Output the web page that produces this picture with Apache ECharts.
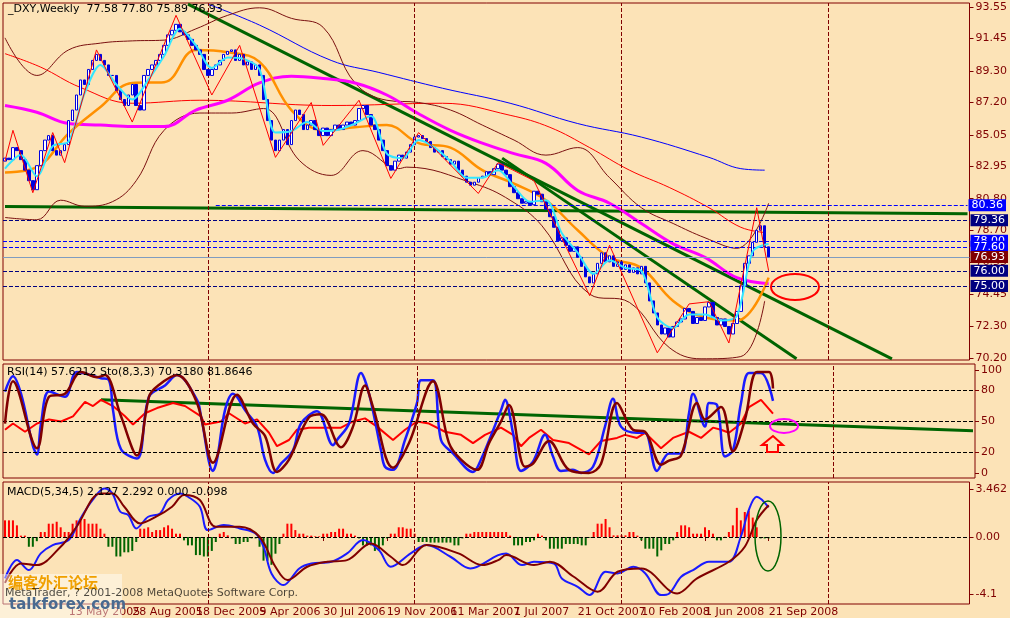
<!DOCTYPE html>
<html>
<head>
<meta charset="utf-8">
<script src="https://cdn.jsdelivr.net/npm/echarts@6/dist/echarts.min.js"></script>
<style>
html,body{margin:0;padding:0;background:#fce3b7;}
#main{width:1010px;height:618px;}
</style>
</head>
<body>
<div id="main"></div>
<script>
// weekly closes, 21 Jan 2005 .. 21 Sep 2008
var closes = [
	83.5,83.4,84.2,84.0,83.4,82.7,82.0,81.4,83.0,84.0,84.7,85.0,84.0,83.7,84.0,84.4,86.0,86.7,87.7,88.7,
	88.4,89.4,90.0,90.4,90.0,89.7,89.0,89.0,88.0,87.4,87.0,87.7,88.4,87.0,86.7,89.0,89.4,89.7,90.0,90.4,
	91.0,91.7,92.0,92.4,91.9,91.7,91.4,91.0,90.7,90.4,89.4,89.0,89.4,89.7,90.0,90.4,90.6,90.7,90.0,90.4,
	89.7,89.9,89.4,89.7,89.0,87.4,86.0,84.7,84.0,84.7,85.4,84.4,86.0,86.7,86.4,85.4,85.7,86.0,85.4,85.0,
	85.5,85.0,85.4,85.7,85.4,85.7,85.9,85.7,86.0,86.8,87.0,86.4,85.7,85.4,84.7,84.0,83.0,82.7,83.3,83.7,
	83.5,83.9,84.4,84.9,85.0,84.8,84.6,84.2,83.9,84.0,83.6,83.4,83.1,83.3,82.7,82.3,81.9,81.7,81.9,82.2,
	82.3,82.6,82.4,82.8,83.1,82.7,82.4,81.6,81.2,80.8,80.5,80.6,80.4,81.3,81.1,80.6,80.1,79.6,78.9,78.0,
	78.2,77.7,77.3,77.6,76.9,76.3,75.6,75.2,75.8,76.5,77.2,76.6,77.0,76.3,76.6,76.1,76.4,75.9,76.2,75.8,
	76.3,75.2,74.0,73.2,72.4,71.8,72.2,71.6,72.3,72.6,72.8,73.5,73.3,72.5,72.9,72.7,73.6,73.9,72.9,72.4,
	72.8,72.3,71.8,72.5,73.3,75.0,76.5,77.0,77.9,78.7,79.0,77.6,76.93
];
var firstOpen = 83.3;
var tickLabels = ['21 Jan 2005','13 May 2005','28 Aug 2005','18 Dec 2005','9 Apr 2006','30 Jul 2006',
	'19 Nov 2006','11 Mar 2007','1 Jul 2007','21 Oct 2007','10 Feb 2008','1 Jun 2008','21 Sep 2008'];
var priceTicks = [93.55,91.45,89.30,87.20,85.05,82.95,80.80,78.70,76.55,74.45,72.30,70.20];
var totalWeeks = 243;

var cyanWeeks = [0,4,8,12,16,20,24,28,32,36,40,44,48,52,56,60,64,68,72,76,80,84,88,92,96,100,104,108,112,116,120,124,128,132,136,140,144,148,152,156,160,164,168,172,176,180,184,188,192];
var cyanMA = [82.8,83.7,82.3,84.3,84.6,87.8,89.7,88.4,87.4,88.7,90.3,92.1,91.0,89.5,90.2,90.1,89.4,85.2,85.3,85.9,85.3,85.4,85.8,86.3,83.8,83.5,84.7,84.2,83.3,82.2,82.2,82.7,81.6,80.6,80.7,78.5,77.2,75.8,76.7,76.2,76.0,72.9,72.2,73.1,73.1,72.7,73.0,77.3,77.8];
var maWeeks = [0,8,16,24,32,40,48,56,64,72,80,88,96,104,112,120,128,136,144,152,160,168,176,184,192];
var orangeMA = [82.55,82.9,85.15,86.9,88.5,88.55,90.7,90.55,89.9,86.7,85.35,85.55,85.7,84.5,84.2,82.7,81.8,80.7,78.7,76.9,76.2,74.0,72.9,72.7,75.55];
var magentaMA = [87.0,86.55,85.8,85.7,85.6,85.6,86.7,87.35,88.5,88.95,88.8,88.5,87.7,86.45,85.35,84.5,83.8,83.15,81.35,80.5,79.15,77.8,76.9,75.55,75.15];
var upperBand = [91.5,89.0,90.7,91.15,91.3,91.35,92.1,93.0,93.5,92.8,92.2,88.5,87.35,87.2,86.7,85.7,84.7,83.7,84.2,82.2,80.2,79.15,78.2,77.5,80.5];
var lowerWeeks = [0,8,14,20,27,33,40,49,57,65,74,82,90,99,101,118,127,135,147,157,167,175,185,191];
var lowerBand = [79.55,79.4,80.7,80.3,80.6,82.0,85.35,86.5,86.5,86.8,83.35,82.35,84.0,82.8,82.9,81.8,80.7,79.0,74.45,73.9,70.9,70.15,70.3,74.0];
var redWeeks = [0,9,19,32,49,82,110,127,137,147,157,167,177,185,191];
var redMA = [90.45,89.55,88.2,87.15,87.35,87.0,87.15,86.35,85.55,84.2,82.7,81.55,80.2,78.9,78.55];
var blueWeeks = [51,64,82,94,110,127,144,160,177,185,191];
var blueMA = [93.75,92.35,90.0,89.2,88.15,87.15,85.8,84.9,83.55,82.8,82.7];
var zigWeeks = [0,2,7,12,15,23,32,43,52,59,68,77,80,89,97,104,119,124,133,147,152,164,172,177,182,189,192];
var zigZag = [83.3,85.35,81.2,85.2,83.2,90.7,85.9,93.0,87.7,91.0,83.55,87.2,84.35,87.35,82.15,85.2,81.15,83.2,82.0,74.35,77.7,70.55,73.8,73.95,71.2,80.2,76.0];
var trendA = [[46,93.75],[223,70.15]];
var trendB = [[125,83.5],[199,70.15]];
var flatLine = [[0,80.28],[242,79.8]];

var stochWeeks = [0,2,4,7,8,9,11,15,18,24,26,27,29,33,36,40,43,48,49,52,53,55,57,58,60,63,65,67,69,72,74,78,82,83,86,89,91,94,95,97,100,103,104,107,109,112,117,119,124,125,127,129,132,135,137,139,142,144,147,150,152,154,158,160,163,166,169,171,172,175,176,178,180,182,184,186,189,192];
var stochMain = [79,94,77,26,18,48,79,74,98,92,90,61,23,14,74,85,95,71,55,2,13,61,77,74,61,45,13,0,9,22,48,60,27,32,48,97,77,22,6,3,32,68,90,90,32,19,1,13,61,71,39,2,11,37,16,2,3,0,6,45,72,45,39,39,2,19,19,58,77,45,68,66,16,22,68,97,97,70];
var signalWeeks = [0,2,8,11,15,19,23,25,29,33,36,38,43,48,52,58,62,65,68,71,76,79,84,87,90,92,97,101,107,111,114,118,121,124,126,130,132,136,141,146,149,153,157,160,164,166,169,173,175,179,182,185,188,191,192];
var stochSignal = [48,89,24,74,77,98,93,95,55,17,74,84,95,68,10,76,48,36,1,13,54,57,25,45,85,64,5,29,89,29,13,3,29,50,66,6,9,31,3,0,9,68,42,40,8,12,17,68,52,64,21,52,98,98,82];
var rsiWeeks = [0,2,5,8,11,14,17,20,22,24,27,30,32,35,38,42,45,49,50,54,56,60,63,66,68,71,73,76,80,84,87,90,93,97,100,103,106,110,114,117,120,124,127,129,131,134,137,141,146,149,153,155,158,160,164,167,171,174,177,179,181,184,186,189,192];
var rsiLine = [42,48,40,48,52,50,55,69,65,71,65,55,47,58,63,68,65,55,47,50,58,48,52,39,26,32,42,44,44,44,50,53,45,32,42,50,48,40,37,29,37,44,37,26,34,42,32,29,18,31,34,37,34,39,24,34,40,34,44,42,39,48,64,71,57.6];
var rsiTrend = [[24,71],[242,41]];

var macdWeeks = [0,3,6,9,12,16,19,22,25,27,29,31,33,36,39,41,44,46,49,51,55,59,63,65,67,70,74,77,82,86,90,94,97,102,106,112,117,124,126,130,133,138,140,144,147,151,154,158,161,165,167,170,173,177,182,185,187,189,192];
var macdMain = [-2.97,-1.66,-2.38,-1.18,-0.58,-0.22,1.34,2.66,3.5,3.14,1.82,1.58,0.62,1.46,1.7,2.66,3.14,2.9,2.18,0.5,0.86,0.62,0.26,-0.7,-2.62,-3.46,-2.26,-1.9,-1.78,-1.18,-0.22,-0.94,-2.14,-1.18,-0.58,-1.42,-2.26,-1.3,-1.18,-2.02,-1.78,-1.9,-2.98,-3.58,-4.18,-2.5,-2.62,-2.14,-2.62,-4.18,-4.06,-2.86,-2.38,-1.78,-1.78,0.02,1.94,2.9,2.13];
var sigWeeks = [0,4,8,14,18,24,27,30,34,38,42,45,49,53,59,64,68,71,76,81,86,92,97,100,106,114,120,124,126,133,137,143,149,154,160,169,174,182,186,189,192];
var macdSignal = [-3.3,-1.9,-2.02,-0.7,0.74,3.14,3.14,2.18,0.98,1.46,2.18,3.02,2.66,0.74,0.74,0.02,-2.14,-3.1,-2.14,-1.78,-1.66,-0.46,-1.42,-2.02,-0.58,-1.18,-2.02,-1.66,-1.3,-2.02,-1.78,-2.86,-3.94,-2.5,-2.26,-4.06,-2.98,-1.78,-0.7,1.22,2.29];
var macdHist = [
	1.2,1.2,1.2,0.84,0.1,0.1,-0.7,-0.7,-0.3,0.36,0.36,0.96,0.96,1.1,0.7,0.36,0.36,0.96,1.2,1.2,
	1.3,0.96,0.96,0.96,0.6,0.24,-0.7,-0.7,-1.4,-1.4,-1.1,-1.1,-1.0,-0.36,0.6,0.6,0.7,0.36,0.5,0.5,
	0.7,0.84,0.6,0.24,0.24,-0.24,-0.6,-0.6,-1.3,-1.3,-1.4,-1.4,-1.0,-0.36,0.24,0.36,0.12,-0.1,-0.5,-0.5,
	-0.36,-0.36,-0.1,-0.1,-0.7,-1.7,-1.7,-2.0,-1.2,-0.5,0.24,0.96,0.96,0.5,0.24,0.24,0.1,0.1,0.05,0.05,
	0.24,0.24,0.36,0.36,0.6,0.6,0.24,0.24,0.1,-0.1,-0.6,-0.6,-0.6,-1.0,-1.0,-0.6,-0.1,0.24,0.24,0.7,
	0.7,0.6,0.6,0.24,-0.36,-0.36,-0.36,-0.4,-0.4,-0.4,-0.4,-0.4,-0.4,-0.6,-0.6,-0.1,0.24,0.24,0.36,0.36,
	0.36,0.36,0.36,0.36,0.36,0.36,0.36,0.1,-0.6,-0.6,-0.6,-0.36,-0.36,-0.24,0.24,0.1,-0.24,-0.84,-0.84,-0.84,
	-0.84,-0.5,-0.5,-0.5,-0.5,-0.6,-0.6,-0.05,0.36,0.96,0.96,1.3,0.7,0.12,0.12,0.12,0.12,0.36,0.36,0.1,
	-0.24,-0.84,-0.84,-0.84,-1.4,-0.96,-0.5,-0.5,-0.24,0.36,0.84,0.84,0.7,0.24,0.24,0.24,0.7,0.5,0.24,-0.24,
	-0.24,0.02,0.36,0.84,2.1,1.2,1.8,1.9,1.4,0.7,-0.1,-0.1,-0.1
];

var levels = [
	{v: 79.36, c: '#000080', dash: 'dashed', bg: '#000080'},
	{v: 78.00, c: '#0000ff', dash: 'dashed', bg: '#0000ff'},
	{v: 77.60, c: '#0000ff', dash: 'dashed', bg: '#0000ff'},
	{v: 76.93, c: '#7f9cc0', dash: 'solid', bg: '#800000'},
	{v: 76.00, c: '#000080', dash: 'dashed', bg: '#000080'},
	{v: 75.00, c: '#000080', dash: 'dashed', bg: '#000080'}
];
var vLines = [51, 103, 155, 207];

function pairs(w, v) {
	return w.map(function(x, i) { return [x, v[i]]; });
}

function initChart() {
	var chart = echarts.init(document.getElementById('main'));
	var font = 'DejaVu Sans';
	var cats = [];
	for (var i = 0; i < totalWeeks; i++) cats.push(String(i));

	var candles = closes.map(function(c, i) {
		var o = i ? closes[i - 1] : firstOpen;
		return [o, c, Math.min(o, c), Math.max(o, c)];
	});

	var showTick = function(idx) { return idx % 16 === 0 && idx <= 192; };
	function xAxis(gi, labels) {
		return {
			type: 'category', gridIndex: gi, data: cats, boundaryGap: true,
			axisLine: {show: false},
			axisTick: {show: labels, interval: showTick, alignWithLabel: true, length: 4, lineStyle: {color: '#800000'}},
			axisLabel: {show: labels, interval: showTick, align: 'left', margin: 3, color: '#800000',
				fontFamily: font, fontSize: 11,
				formatter: function(v, idx) { return tickLabels[idx / 16] || ''; }},
			splitLine: {show: false}
		};
	}
	function yAxis(gi, min, max, ticks, fmt) {
		return {
			type: 'value', gridIndex: gi, position: 'right', min: min, max: max, scale: true,
			axisLine: {show: false},
			axisTick: {show: true, customValues: ticks, length: 4, inside: false, lineStyle: {color: '#800000'}},
			axisLabel: {customValues: ticks, color: '#800000', fontFamily: font, fontSize: 11, margin: 6,
				formatter: fmt},
			splitLine: {show: false}
		};
	}
	function line(name, gi, data, color, width, z, smooth) {
		return {name: name, type: 'line', xAxisIndex: gi, yAxisIndex: gi, data: data, symbol: 'none',
			smooth: smooth || false,
			lineStyle: {color: color, width: width}, silent: true, z: z || 3, animation: false};
	}
	function vMarks() {
		return {silent: true, symbol: 'none', label: {show: false},
			lineStyle: {color: '#800000', type: 'dashed', width: 1},
			data: vLines.map(function(x) { return {xAxis: x}; })};
	}

	var levelMarks = {
		silent: true, symbol: 'none',
		data: levels.map(function(l) {
			return {yAxis: l.v, lineStyle: {color: l.c, type: l.dash, width: 1},
				label: {show: true, position: 'end', distance: 1, formatter: l.v.toFixed(2), color: '#fff',
					backgroundColor: l.bg, padding: [1, 3, 0, 3], fontFamily: font, fontSize: 11}};
		}).concat([[
			{coord: [53, 80.36], lineStyle: {color: '#0000ff', type: 'dashed', width: 1}},
			{coord: [242, 80.36], label: {show: true, position: 'end', distance: 1, formatter: '80.36', color: '#fff',
				backgroundColor: '#0000ff', padding: [1, 3, 0, 3], fontFamily: font, fontSize: 11}}
		]])
	};

	var series = [];
	series.push({
		type: 'candlestick', xAxisIndex: 0, yAxisIndex: 0, data: candles, barWidth: 3, z: 5,
		itemStyle: {color: '#ffffff', color0: '#0000e0', borderColor: '#0000e0', borderColor0: '#0000e0', borderWidth: 1},
		markLine: vMarks(), animation: false
	});
	var lvl = line('levels', 0, flatLine, '#006400', 3, 2);
	lvl.markLine = levelMarks;
	series.push(lvl);
	series.push(line('trendA', 0, trendA, '#006400', 3, 2));
	series.push(line('trendB', 0, trendB, '#006400', 3, 2));
	series.push(line('blueMA', 0, pairs(blueWeeks, blueMA), '#0000ff', 1, 3, 0.4));
	series.push(line('redMA', 0, pairs(redWeeks, redMA), '#ff0000', 1, 3, 0.4));
	series.push(line('upper', 0, pairs(maWeeks, upperBand), '#7a1010', 1, 3, 0.4));
	series.push(line('lower', 0, pairs(lowerWeeks, lowerBand), '#7a1010', 1, 3, 0.4));
	series.push(line('magenta', 0, pairs(maWeeks, magentaMA), '#ff00ff', 3, 3, 0.4));
	series.push(line('orange', 0, pairs(maWeeks, orangeMA), '#ff9000', 2.5, 3, 0.4));
	series.push(line('cyan', 0, pairs(cyanWeeks, cyanMA), '#33e6ff', 2, 6, 0.3));
	series.push(line('zigzag', 0, pairs(zigWeeks, zigZag), '#ff0000', 1, 6));

	var rsi = line('rsi', 1, pairs(rsiWeeks, rsiLine), '#ff0000', 2);
	rsi.markLine = vMarks();
	rsi.markLine.data = rsi.markLine.data.concat([{yAxis: 80, lineStyle: {color: '#000', type: 'dashed'}},
		{yAxis: 50, lineStyle: {color: '#000', type: 'dashed'}}, {yAxis: 20, lineStyle: {color: '#000', type: 'dashed'}}]);
	series.push(rsi);
	series.push(line('rsiTrend', 1, rsiTrend, '#006400', 3, 2));
	series.push(line('stoch', 1, pairs(stochWeeks, stochMain), '#1a1aff', 2.5, 4, 0.35));
	series.push(line('stochSig', 1, pairs(signalWeeks, stochSignal), '#800000', 2.5, 5, 0.35));

	series.push({
		type: 'bar', xAxisIndex: 2, yAxisIndex: 2, data: macdHist, barWidth: 2, silent: true, animation: false,
		itemStyle: {color: function(p) { return p.value >= 0 ? '#ff0000' : '#006400'; }},
		markLine: (function() {
			var m = vMarks();
			m.data.push({yAxis: 0, lineStyle: {color: '#000', type: 'dashed'}});
			return m;
		})()
	});
	series.push(line('macd', 2, pairs(macdWeeks, macdMain), '#1a1aff', 2, 4, 0.35));
	series.push(line('macdSig', 2, pairs(sigWeeks, macdSignal), '#800000', 2, 5, 0.35));

	var option = {
		backgroundColor: '#fce3b7',
		animation: false,
		grid: [
			{left: 3, right: 35, top: 3, height: 357, show: true, borderColor: '#800000', borderWidth: 1},
			{left: 3, right: 35, top: 364, height: 114, show: true, borderColor: '#800000', borderWidth: 1},
			{left: 3, right: 35, top: 482, height: 122, show: true, borderColor: '#800000', borderWidth: 1}
		],
		xAxis: [xAxis(0, false), xAxis(1, false), xAxis(2, true)],
		yAxis: [
			yAxis(0, 70.07, 93.82, priceTicks, function(v) { return v.toFixed(2); }),
			yAxis(1, -4.9, 105.8, [100, 80, 50, 20, 0], function(v) { return String(v); }),
			yAxis(2, -4.82, 3.96, [3.462, 0, -4.1], function(v) { return v === 0 ? '0.00' : String(v); })
		],
		series: series,
		graphic: [
			{type: 'text', left: 8, top: 4, z: 100, style: {text: '_DXY,Weekly  77.58 77.80 75.89 76.93', fill: '#000', font: '11px ' + font}},
			{type: 'text', left: 7, top: 367, z: 100, style: {text: 'RSI(14) 57.6212 Sto(8,3,3) 70.3180 81.8646', fill: '#000', font: '11px ' + font}},
			{type: 'text', left: 7, top: 487, z: 100, style: {text: 'MACD(5,34,5) 2.127 2.292 0.000 -0.098', fill: '#000', font: '11px ' + font}},
			{type: 'ellipse', z: 100, shape: {cx: 795, cy: 287, rx: 24, ry: 13}, style: {fill: null, stroke: '#ff0000', lineWidth: 2}},
			{type: 'ellipse', z: 100, shape: {cx: 784, cy: 426, rx: 14, ry: 7}, style: {fill: null, stroke: '#ff00ff', lineWidth: 2}},
			{type: 'ellipse', z: 100, shape: {cx: 768, cy: 536, rx: 13, ry: 35}, style: {fill: null, stroke: '#006400', lineWidth: 1.5}},
			{type: 'polygon', z: 100, shape: {points: [[773, 436], [762, 445], [767, 445], [767, 452], [778, 452], [778, 445], [783, 445]]},
				style: {fill: null, stroke: '#ff0000', lineWidth: 2}},
			{type: 'rect', z: 90, shape: {x: 0, y: 574, width: 122, height: 44}, style: {fill: 'rgba(255,255,255,0.45)'}},
			{type: 'text', left: 8, top: 575, z: 101, style: {text: '编客外汇论坛', fill: '#f0a000', font: 'bold 15px "Noto Sans CJK SC"'}},
			{type: 'text', left: 5, top: 588, z: 101, style: {text: 'MetaTrader, ? 2001-2008 MetaQuotes Software Corp.', fill: 'rgba(0,0,0,0.7)', font: '11px ' + font}},
			{type: 'text', left: 9, top: 598, z: 101, style: {text: 'talkforex.com', fill: '#4a6a90', font: 'bold 15px ' + font}}
		]
	};
	chart.setOption(option);
}

initChart();
</script>
</body>
</html>
